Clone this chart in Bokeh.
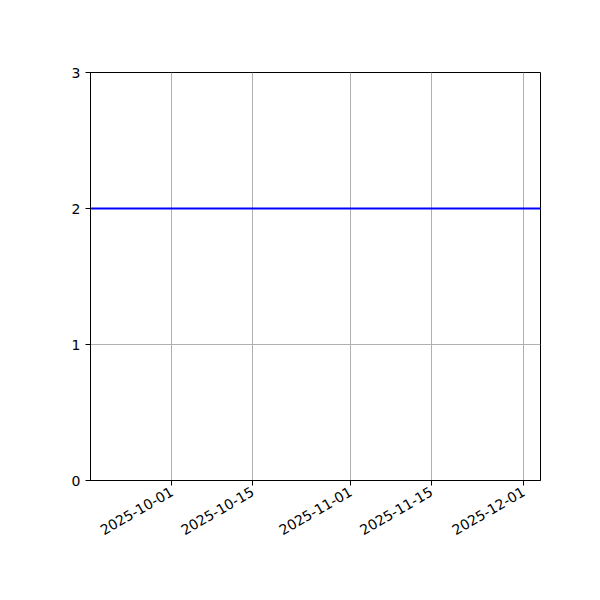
import math
from datetime import datetime
from bokeh.plotting import figure
from bokeh.models import ColumnDataSource, FixedTicker, DatetimeTickFormatter, Range1d
from bokeh.embed import file_html
from bokeh.resources import INLINE

# data
dates = ["2025-09-17", "2025-12-04"]
values = [2, 2]
x_ticks = ["2025-10-01", "2025-10-15", "2025-11-01", "2025-11-15", "2025-12-01"]
y_ticks = [0, 1, 2, 3]

def ms(d):
    return datetime.strptime(d, "%Y-%m-%d").timestamp() * 1000

src = ColumnDataSource({"date": [datetime.strptime(d, "%Y-%m-%d") for d in dates], "value": values})

p = figure(width=592, height=592, x_axis_type="datetime",
           output_backend="svg", toolbar_location=None,
           min_border_left=90, min_border_right=52, min_border_top=72, min_border_bottom=112)
p.x_range = Range1d(ms("2025-09-16") + 0.9 * 86400000, ms("2025-12-03") + 0.9 * 86400000)
p.y_range = Range1d(0, 3)

p.line("date", "value", source=src, line_color="#0000ff", line_width=2)

p.xaxis.ticker = FixedTicker(ticks=[ms(d) for d in x_ticks])
p.xaxis.formatter = DatetimeTickFormatter(days="%Y-%m-%d", months="%Y-%m-%d")
p.xaxis.major_label_orientation = math.pi / 6
p.yaxis.ticker = FixedTicker(ticks=y_ticks)

for ax in (p.xaxis, p.yaxis):
    ax.major_label_text_font = "DejaVu Sans"
    ax.major_label_text_font_size = "14px"
    ax.major_label_text_color = "black"
    ax.axis_line_color = "black"
    ax.major_tick_line_color = "black"
    ax.major_tick_in = 0
    ax.major_tick_out = 5
    ax.minor_tick_line_color = None
    ax.major_label_standoff = 5

p.xgrid.grid_line_color = "#b0b0b0"
p.ygrid.grid_line_color = "#b0b0b0"
p.outline_line_color = "black"
p.outline_line_alpha = 1
p.background_fill_color = "white"
p.border_fill_color = "white"

open("out.html", "w").write(file_html(p, INLINE))
